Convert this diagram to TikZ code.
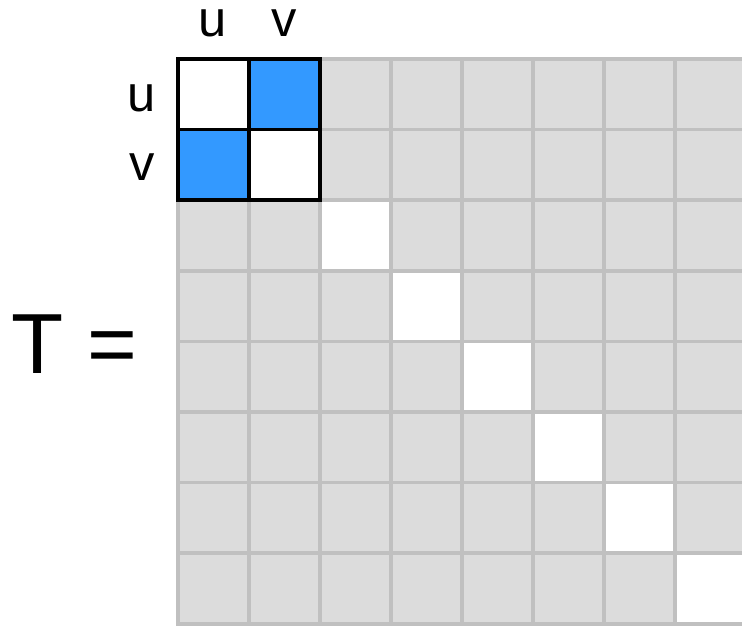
\documentclass[tikz,border=0pt]{standalone}
\usepackage{fontspec}
\setmainfont{Liberation Sans}
\definecolor{cellgrey}{HTML}{DCDCDC}
\definecolor{linegrey}{HTML}{C0C0C0}
\definecolor{swapblue}{HTML}{3399FF}

\begin{document}
\begin{tikzpicture}[x=0.75pt, y=-0.75pt,
  cell/.style={fill=cellgrey, draw=linegrey, line width=2.8pt},
  idcell/.style={fill=white, draw=linegrey, line width=2.8pt},
  swapcell/.style={fill=swapblue},
  frame/.style={draw=black, line width=2.6pt},
  lab/.style={inner sep=0pt, font=\fontsize{38}{40}\selectfont}]
  \useasboundingbox (0,0) rectangle (742,626);
  \clip (0,0) rectangle (742,626);

  % Grid of the matrix
  \foreach \i in {0,...,7}
    \foreach \j in {0,...,7}
      \draw[cell] (178+71*\i,59+70.6*\j) rectangle ++(71,70.6);

  % Untouched diagonal
  \foreach \i in {2,...,7}
    \draw[idcell] (178+71*\i,59+70.6*\i) rectangle ++(71,70.6);

  % Swapped block u,v
  \fill[white] (178,59) rectangle ++(142,141.2);
  \fill[swapcell] (249,59) rectangle ++(71,70.6);
  \fill[swapcell] (178,129.6) rectangle ++(71,70.6);
  \draw[frame] (178,59) rectangle ++(142,141.2);
  \draw[frame] (249,59) -- ++(0,141.2);
  \draw[frame] (178,129.6) -- ++(142,0);

  % Labels
  \node[lab] (colu) at (213,23) {u};
  \node[lab] (colv) at (284,23) {v};
  \node[lab] (rowu) at (142,98) {u};
  \node[lab] (rowv) at (142,167) {v};
  \node[anchor=base west, inner sep=0pt, font=\fontsize{64}{70}\selectfont]
    (teq) at (11,373) {T =};
\end{tikzpicture}
\end{document}
